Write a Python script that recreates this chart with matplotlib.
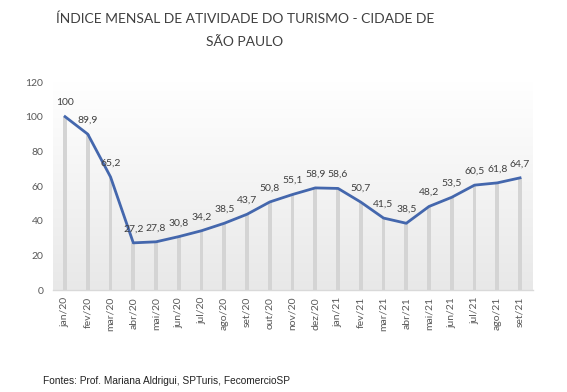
import numpy as np
import matplotlib
matplotlib.use("Agg")
import matplotlib.pyplot as plt

meses = ["jan/20", "fev/20", "mar/20", "abr/20", "mai/20", "jun/20", "jul/20",
         "ago/20", "set/20", "out/20", "nov/20", "dez/20", "jan/21", "fev/21",
         "mar/21", "abr/21", "mai/21", "jun/21", "jul/21", "ago/21", "set/21"]
indice = [100, 89.9, 65.2, 27.2, 27.8, 30.8, 34.2, 38.5, 43.7, 50.8, 55.1,
          58.9, 58.6, 50.7, 41.5, 38.5, 48.2, 53.5, 60.5, 61.8, 64.7]
yticks = [0, 20, 40, 60, 80, 100, 120]

W, H = 567, 392
fig = plt.figure(figsize=(W / 100, H / 100), dpi=100)
ax = fig.add_axes([53 / W, 1 - 290 / H, (533 - 53) / W, (290 - 82) / H])

x = np.arange(len(meses))
ax.set_xlim(-0.53, 20.57)
ax.set_ylim(0, 120)

# fundo em degradê (branco em cima, cinza claro embaixo)
g = np.linspace(1.0, 0.91, 256)
grad = np.dstack([g, g, g]).reshape(256, 1, 3)
ax.imshow(grad, extent=[-0.53, 20.57, 0, 120], aspect="auto",
          zorder=0, origin="upper", interpolation="bilinear")

ax.bar(x, indice, width=0.17, color="#d4d4d4", zorder=1)
ax.plot(x, indice, color="#4467ad", lw=2, zorder=3)

for xi, v in zip(x, indice):
    txt = "100" if v == 100 else f"{v:.1f}".replace(".", ",")
    ax.annotate(txt, (xi, v), xytext=(0, 10), textcoords="offset points",
                ha="center", va="center", fontsize=7.5, color="#404040",
                family="Lato", zorder=4)

for s in ["top", "right", "left"]:
    ax.spines[s].set_visible(False)
ax.spines["bottom"].set_color("#d9d9d9")
ax.spines["bottom"].set_linewidth(1)

ax.set_yticks(yticks)
ax.set_yticklabels([str(t) for t in yticks], family="Lato", fontsize=7.5, color="#595959")
ax.set_xticks(x)
ax.set_xticklabels(meses, rotation=90, family="Lato", fontsize=7.5, color="#595959")
ax.tick_params(axis="both", length=0, pad=7)
ax.tick_params(axis="x", pad=5)

fig.text(245 / W, 1 - 19 / H, "ÍNDICE MENSAL DE ATIVIDADE DO TURISMO - CIDADE DE",
         ha="center", va="center", fontsize=10, family="Lato", color="#404040")
fig.text(245 / W, 1 - 42 / H, "SÃO PAULO",
         ha="center", va="center", fontsize=10, family="Lato", color="#404040")
fig.text(43 / W, 1 - 381 / H, "Fontes: Prof. Mariana Aldrigui, SPTuris, FecomercioSP",
         ha="left", va="center", fontsize=7.3, family="Liberation Sans", color="#222222")

fig.savefig("out.png", dpi=100)
